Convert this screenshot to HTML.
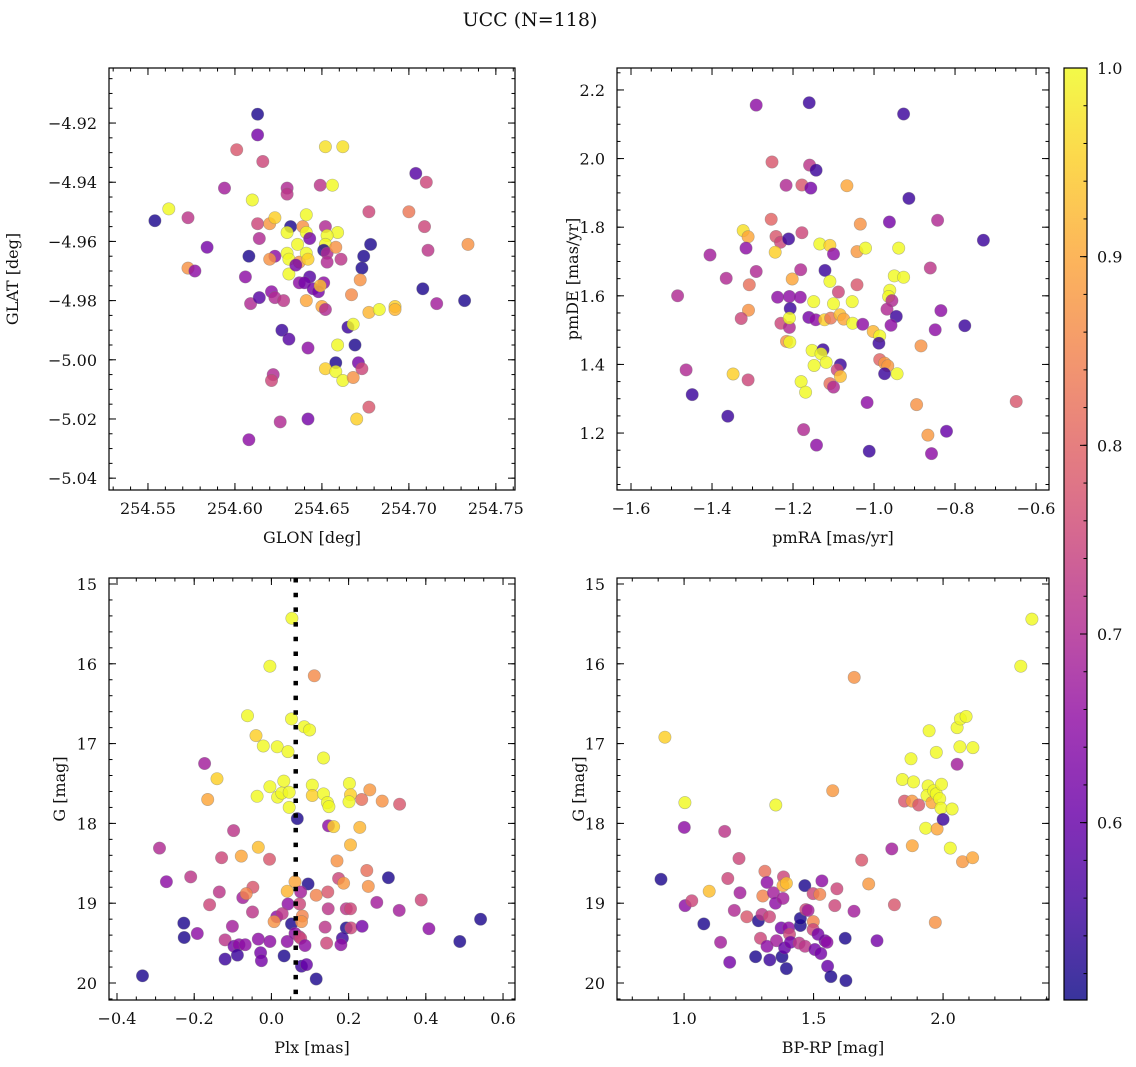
<!DOCTYPE html>
<html><head><meta charset="utf-8">
<style>
html,body{margin:0;padding:0;background:#fff;}
svg{display:block;font-family:"DejaVu Serif","Liberation Serif",serif;}
</style></head>
<body>
<svg id="fig" width="1136" height="1067" viewBox="0 0 1136 1067" xmlns="http://www.w3.org/2000/svg">
<rect x="0" y="0" width="1136" height="1067" fill="#fff"/>
<text x="530" y="26" font-size="19" text-anchor="middle" fill="#111">UCC (N=118)</text>
</svg>
<script>
// ---------- Panel 1: GLON / GLAT ----------
const glon = [254.613,254.613,254.601,254.616,254.652,254.662,254.594,254.630,254.630,254.649,254.656,254.704,254.710,254.610,254.562,254.554,254.573,254.613,254.620,254.623,254.632,254.639,254.641,254.652,254.659,254.677,254.700,254.709,254.734,254.614,254.630,254.636,254.641,254.643,254.653,254.652,254.651,254.653,254.658,254.584,254.678,254.674,254.608,254.623,254.620,254.630,254.631,254.637,254.641,254.642,254.653,254.661,254.711,254.573,254.577,254.606,254.631,254.635,254.673,254.643,254.637,254.640,254.651,254.645,254.648,254.649,254.672,254.708,254.609,254.614,254.621,254.623,254.628,254.641,254.650,254.652,254.667,254.677,254.683,254.692,254.692,254.716,254.732,254.665,254.668,254.627,254.631,254.642,254.659,254.669,254.658,254.652,254.658,254.662,254.668,254.671,254.673,254.622,254.621,254.626,254.642,254.670,254.677,254.608];
const glat = [-4.917,-4.924,-4.929,-4.933,-4.928,-4.928,-4.942,-4.942,-4.944,-4.941,-4.941,-4.937,-4.940,-4.946,-4.949,-4.953,-4.952,-4.954,-4.954,-4.952,-4.955,-4.955,-4.951,-4.955,-4.957,-4.950,-4.950,-4.955,-4.961,-4.959,-4.957,-4.961,-4.957,-4.959,-4.958,-4.961,-4.963,-4.964,-4.962,-4.962,-4.961,-4.965,-4.965,-4.965,-4.966,-4.964,-4.966,-4.967,-4.964,-4.966,-4.967,-4.966,-4.963,-4.969,-4.970,-4.972,-4.971,-4.968,-4.969,-4.972,-4.974,-4.974,-4.974,-4.976,-4.977,-4.975,-4.973,-4.976,-4.981,-4.979,-4.977,-4.979,-4.980,-4.980,-4.982,-4.983,-4.978,-4.984,-4.983,-4.982,-4.983,-4.981,-4.980,-4.989,-4.988,-4.990,-4.993,-4.996,-4.995,-4.995,-5.001,-5.003,-5.004,-5.007,-5.006,-5.001,-5.003,-5.005,-5.007,-5.021,-5.020,-5.020,-5.016,-5.027];
const prob1 = [.52,.62,.78,.75,.97,.97,.68,.70,.72,.72,1,.58,.75,1,1,.52,.72,.75,.88,.95,.52,.87,1,.70,1,.75,.83,.75,.87,.70,1,1,1,.62,1,1,.52,.70,.87,.62,.52,.52,.52,.65,.87,1,1,.87,1,.95,.70,.72,.72,.87,.65,.65,1,.62,.52,.58,.65,.62,.65,.62,.62,.93,.87,.52,.70,.58,.65,.70,.72,.90,.90,.70,.86,.92,1,.95,.92,.68,.52,.55,1,.55,.58,.65,1,.52,.52,.95,1,1,.87,.62,.75,.70,.75,.70,.62,.95,.78,.65];

// ---------- Panel 2: pmRA / pmDE ----------
const pmra = [-1.291,-1.160,-0.927,-1.252,-1.159,-1.143,-1.217,-1.178,-1.156,-1.067,-0.914,-1.254,-0.962,-0.843,-1.034,-1.323,-1.311,-1.242,-1.231,-1.211,-1.178,-0.730,-1.316,-1.244,-1.134,-1.109,-1.100,-1.042,-1.021,-0.939,-1.405,-1.291,-1.365,-1.308,-1.202,-1.181,-1.121,-1.109,-1.088,-1.042,-0.950,-0.927,-0.861,-1.485,-1.238,-1.209,-1.182,-1.149,-1.100,-1.054,-0.961,-0.964,-0.956,-1.207,-1.310,-1.328,-1.161,-1.144,-1.122,-1.107,-1.084,-1.075,-1.053,-1.028,-0.968,-0.945,-0.958,-0.835,-0.849,-0.776,-1.230,-1.209,-1.209,-1.216,-1.208,-1.002,-0.986,-0.988,-0.884,-1.153,-1.126,-1.131,-1.118,-1.148,-1.083,-1.091,-1.083,-1.109,-1.100,-1.180,-1.169,-0.986,-0.974,-0.966,-0.974,-0.943,-1.464,-1.348,-1.311,-1.449,-1.361,-1.017,-0.895,-0.649,-1.174,-1.142,-1.012,-0.867,-0.821,-0.858];
const pmde = [2.156,2.163,2.130,1.990,1.981,1.966,1.922,1.923,1.914,1.921,1.884,1.823,1.815,1.820,1.809,1.790,1.772,1.773,1.756,1.766,1.784,1.762,1.739,1.727,1.751,1.747,1.722,1.729,1.739,1.739,1.719,1.671,1.651,1.632,1.649,1.676,1.674,1.642,1.611,1.632,1.658,1.654,1.681,1.600,1.596,1.598,1.596,1.583,1.577,1.583,1.616,1.598,1.586,1.563,1.558,1.534,1.537,1.530,1.530,1.535,1.545,1.532,1.520,1.517,1.561,1.540,1.514,1.557,1.501,1.513,1.520,1.508,1.535,1.467,1.465,1.496,1.483,1.462,1.454,1.441,1.443,1.431,1.406,1.397,1.399,1.384,1.365,1.344,1.334,1.350,1.319,1.414,1.404,1.396,1.373,1.373,1.384,1.372,1.355,1.312,1.249,1.289,1.283,1.292,1.210,1.165,1.147,1.194,1.205,1.140];
const prob2 = [.65,.55,.55,.78,.72,.55,.70,.78,.62,.90,.55,.80,.62,.70,.87,.97,.90,.78,.75,.55,.75,.55,.65,.95,1,.95,.65,.88,1,1,.68,.70,.70,.82,.90,.70,.55,1,.75,.78,1,1,.72,.70,.65,.65,.65,1,1,1,1,1,.70,.55,.87,.75,.62,.65,.95,.83,.93,.90,1,.65,.70,.55,.65,.65,.65,.55,.75,.70,1,.87,1,.92,1,.55,.87,1,.55,1,1,1,.55,.75,.93,.82,.70,1,1,.80,.88,.88,.55,1,.70,.95,.75,.55,.55,.65,.87,.78,.70,.65,.55,.88,.60,.65];

// ---------- Panel 3: Plx / G ----------
const plx = [0.053,-0.004,0.111,-0.062,0.052,0.085,0.099,-0.040,-0.021,0.015,0.043,0.135,-0.173,-0.141,-0.004,0.032,-0.165,-0.037,0.016,0.027,0.046,0.046,0.106,0.106,0.135,0.145,0.149,0.202,0.205,0.201,0.234,0.255,0.287,0.332,0.067,0.148,0.161,0.229,-0.098,-0.290,-0.034,0.205,-0.129,-0.078,-0.005,0.170,-0.272,-0.209,-0.135,-0.160,-0.074,-0.048,-0.065,0.061,0.041,0.095,0.076,0.116,0.146,0.174,0.187,0.247,0.251,0.303,0.273,0.388,0.331,0.043,0.073,-0.049,0.014,0.028,0.007,0.052,0.080,0.078,0.147,0.194,0.205,-0.227,-0.226,-0.192,-0.101,-0.120,-0.097,-0.084,-0.068,-0.088,-0.120,-0.034,-0.028,-0.026,-0.004,0.033,0.041,0.061,0.072,0.076,0.087,0.078,0.091,0.116,0.139,0.143,0.194,0.206,0.184,0.180,0.235,0.408,0.542,0.488,-0.334];
const gmag3 = [15.43,16.03,16.15,16.65,16.69,16.79,16.83,16.90,17.03,17.04,17.10,17.18,17.25,17.44,17.54,17.47,17.70,17.66,17.67,17.62,17.61,17.80,17.52,17.65,17.63,17.74,17.79,17.50,17.64,17.73,17.70,17.58,17.72,17.76,17.94,18.03,18.04,18.05,18.09,18.31,18.30,18.27,18.43,18.41,18.45,18.47,18.73,18.67,18.86,19.02,18.93,18.80,18.88,18.73,18.85,18.76,18.86,18.90,18.86,18.69,18.75,18.59,18.79,18.68,18.99,18.96,19.09,19.01,19.01,19.11,19.17,19.13,19.23,19.26,19.16,19.23,19.07,19.07,19.07,19.25,19.43,19.38,19.29,19.46,19.54,19.52,19.52,19.65,19.70,19.45,19.62,19.72,19.48,19.66,19.48,19.38,19.42,19.44,19.53,19.79,19.77,19.95,19.30,19.50,19.31,19.31,19.44,19.52,19.29,19.32,19.20,19.48,19.91];
const prob3 = [1,1,.86,1,1,1,1,.95,1,1,1,1,.68,.95,1,1,.90,1,1,1,1,1,1,.95,1,1,1,1,.95,1,.82,.88,.87,.78,.52,.65,.95,.92,.72,.70,.93,.92,.75,.90,.78,.87,.65,.72,.72,.75,.68,.78,.85,.90,.92,.52,.68,.85,.78,.75,.88,.82,.87,.52,.68,.75,.68,.65,.75,.72,.65,.72,.87,.52,.85,.87,.72,.72,.75,.52,.52,.65,.68,.72,.62,.65,.65,.55,.55,.65,.62,.62,.65,.52,.65,.65,.72,.75,.65,.55,.60,.52,.72,.75,.52,.75,.55,.65,.62,.65,.52,.52,.52];
const plxRef = [0.063];

// ---------- Panel 4: BP-RP / G ----------
const bprp = [0.926,1.003,1.001,0.911,1.004,1.030,1.076,1.097,1.141,1.176,1.157,1.169,1.194,1.216,1.212,1.242,1.276,1.287,1.301,1.331,1.312,1.320,1.304,1.330,1.295,1.320,1.345,1.353,1.354,1.357,1.378,1.384,1.382,1.395,1.382,1.375,1.388,1.395,1.404,1.407,1.411,1.444,1.449,1.449,1.466,1.470,1.479,1.467,1.498,1.499,1.498,1.524,1.532,1.517,1.505,1.528,1.544,1.552,1.554,1.567,1.574,1.582,1.590,1.622,1.625,1.657,1.656,1.686,1.713,1.745,1.802,1.812,1.843,1.851,1.880,1.876,1.886,1.881,1.906,1.933,1.946,1.942,1.938,1.957,1.964,1.974,1.974,1.977,1.970,1.987,1.994,1.992,2.000,2.028,2.035,2.054,2.054,2.067,2.089,2.065,2.115,2.075,2.114,2.300,2.343];
const gmag4 = [16.92,17.74,18.05,18.70,19.03,18.97,19.26,18.85,19.49,19.74,18.10,18.69,19.09,18.87,18.44,19.17,19.67,19.22,19.14,19.71,18.60,18.74,18.91,19.17,19.44,19.54,18.87,19.00,17.77,19.47,19.67,18.67,18.78,18.75,18.94,19.31,19.56,19.82,19.31,19.39,19.49,19.50,19.28,19.19,18.78,19.08,19.09,19.54,18.88,19.23,19.33,18.89,18.72,19.39,19.58,19.63,19.47,19.49,19.79,19.92,17.59,19.03,18.82,19.44,19.97,16.17,19.10,18.46,18.76,19.47,18.32,19.02,17.45,17.72,17.72,17.19,17.48,18.28,17.77,18.06,16.84,17.53,17.65,17.74,17.59,17.11,17.63,18.07,19.24,17.69,17.51,17.81,17.95,18.31,17.82,17.26,16.80,16.69,16.66,17.04,17.05,18.48,18.43,16.03,15.44];
const prob4 = [.95,1,.65,.52,.65,.75,.52,.93,.68,.62,.72,.75,.70,.68,.75,.78,.52,.52,.72,.55,.82,.65,.85,.75,.75,.65,.68,.65,1,.68,.52,.75,.90,.93,.68,.62,.60,.52,.65,.75,.62,.72,.52,.52,.52,.75,.68,.72,.75,.85,.75,.85,.65,.62,.62,.62,.62,.65,.60,.52,.88,.75,.75,.52,.52,.87,.68,.78,.88,.62,.68,.78,1,.78,.88,1,1,.90,.78,1,1,1,1,.90,1,1,1,.90,.87,1,1,1,.55,1,1,.68,1,1,1,1,1,.88,.90,1,1];

// ---------- Colorbar ----------
const cbTicks = [0.6,0.7,0.8,0.9,1.0];
const cbTickLabels = ["0.6","0.7","0.8","0.9","1.0"];

const NS = "http://www.w3.org/2000/svg";
const svg = document.getElementById("fig");
const VMIN = 0.506, VMAX = 1.0;
const plasma = [[0,13,8,135],[0.1,65,4,157],[0.2,106,0,168],[0.3,143,13,164],[0.4,177,42,144],[0.5,204,71,120],[0.6,225,100,98],[0.7,242,132,75],[0.8,252,166,54],[0.9,252,206,37],[1,240,249,33]];
function cmap(v){
  let t = Math.max(0, Math.min(1, (v - VMIN) / (VMAX - VMIN)));
  for (let i = 0; i < plasma.length - 1; i++) {
    const a = plasma[i], b = plasma[i+1];
    if (t <= b[0]) {
      const f = (t - a[0]) / (b[0] - a[0]);
      return "rgb(" + [1,2,3].map(k => Math.round(a[k] + (b[k]-a[k])*f)).join(",") + ")";
    }
  }
  return "rgb(240,249,33)";
}
function mk(tag, attrs, parent){
  const e = document.createElementNS(NS, tag);
  for (const k in attrs) e.setAttribute(k, attrs[k]);
  (parent || svg).appendChild(e);
  return e;
}
function fmtMinus(s){ return s.replace("-", "\u2212"); }

function panel(cfg){
  const g = mk("g", {});
  
  
  const {x0, y0, w, h} = cfg;
  const sx = v => x0 + (v - cfg.xd[0]) / (cfg.xd[1] - cfg.xd[0]) * w;
  const sy = v => y0 + (v - cfg.yd[0]) / (cfg.yd[1] - cfg.yd[0]) * h;
  const pg = mk("g", {}, g);
  
  
  for (let i = 0; i < cfg.xs.length; i++) {
    const c = mk("circle", {cx: sx(cfg.xs[i]).toFixed(1), cy: sy(cfg.ys[i]).toFixed(1), r: 6.2, fill: cmap(cfg.ps[i]), "fill-opacity": 0.82, stroke: "#777", "stroke-opacity": 0.5, "stroke-width": 0.6}, pg);
    
    
  }
  if (cfg.vline) {
    for (const v of cfg.vline) {
      const l = mk("line", {x1: sx(v), x2: sx(v), y1: y0, y2: y0 + h, stroke: "#000", "stroke-width": 4.5, "stroke-dasharray": "4.5 10.2"}, g);
      
      
    }
  }
  const fr = mk("rect", {x: x0, y: y0, width: w, height: h, fill: "none", stroke: "#000", "stroke-width": 1.2}, g);
  
  
  const tk = mk("g", {stroke: "#000", "stroke-width": 1}, g);
  
  
  const lo = (a,b)=>Math.min(a,b), hi=(a,b)=>Math.max(a,b);
  const xlo = lo(cfg.xd[0], cfg.xd[1]), xhi = hi(cfg.xd[0], cfg.xd[1]);
  const ylo = lo(cfg.yd[0], cfg.yd[1]), yhi = hi(cfg.yd[0], cfg.yd[1]);
  for (let k = Math.ceil(xlo / cfg.xminor - 1e-6); k * cfg.xminor <= xhi + 1e-9; k++) {
    const px = sx(k * cfg.xminor);
    mk("line", {x1: px, x2: px, y1: y0 + h, y2: y0 + h - 3.5}, tk);
    mk("line", {x1: px, x2: px, y1: y0, y2: y0 + 3.5}, tk);
  }
  for (let k = Math.ceil(ylo / cfg.yminor - 1e-6); k * cfg.yminor <= yhi + 1e-9; k++) {
    const py = sy(k * cfg.yminor);
    mk("line", {x1: x0, x2: x0 + 3.5, y1: py, y2: py}, tk);
    mk("line", {x1: x0 + w, x2: x0 + w - 3.5, y1: py, y2: py}, tk);
  }
  cfg.xticks.forEach((v, i) => {
    const px = sx(v);
    mk("line", {x1: px, x2: px, y1: y0 + h, y2: y0 + h - 7}, tk);
    mk("line", {x1: px, x2: px, y1: y0, y2: y0 + 7}, tk);
    const t = mk("text", {x: px, y: y0 + h + 24, "font-size": 16, "text-anchor": "middle", fill: "#111"}, g);
    t.textContent = fmtMinus(cfg.xlabels[i]);
    
    
  });
  cfg.yticks.forEach((v, i) => {
    const py = sy(v);
    mk("line", {x1: x0, x2: x0 + 7, y1: py, y2: py}, tk);
    mk("line", {x1: x0 + w, x2: x0 + w - 7, y1: py, y2: py}, tk);
    const t = mk("text", {x: x0 - 12, y: py + 6, "font-size": 16, "text-anchor": "end", fill: "#111"}, g);
    t.textContent = fmtMinus(cfg.ylabels[i]);
    
    
  });
  const xl = mk("text", {x: x0 + w/2, y: y0 + h + 53, "font-size": 16, "text-anchor": "middle", fill: "#111"}, g);
  xl.textContent = cfg.xtitle;
  
  
  const yl = mk("text", {x: 0, y: 0, "font-size": 16, "text-anchor": "middle", fill: "#111", transform: "translate(" + cfg.ytx + "," + (y0 + h/2) + ") rotate(-90)"}, g);
  yl.textContent = cfg.ytitle;
  
  
}

panel({name: "glon-glat-panel", x0: 109, y0: 68, w: 406, h: 422, xd: [254.5276, 254.7610], yd: [-4.9014, -5.0440],
  xs: glon, ys: glat, ps: prob1,
  xticks: [254.55,254.60,254.65,254.70,254.75], xlabels: ["254.55","254.60","254.65","254.70","254.75"],
  yticks: [-4.92,-4.94,-4.96,-4.98,-5.00,-5.02,-5.04], ylabels: ["-4.92","-4.94","-4.96","-4.98","-5.00","-5.02","-5.04"],
  xminor: 0.01, yminor: 0.005, xtitle: "GLON [deg]", ytitle: "GLAT [deg]", ytx: 18});
panel({name: "pm-panel", x0: 617, y0: 68, w: 432, h: 422, xd: [-1.6346, -0.568], yd: [2.264, 1.034],
  xs: pmra, ys: pmde, ps: prob2,
  xticks: [-1.6,-1.4,-1.2,-1.0,-0.8,-0.6], xlabels: ["-1.6","-1.4","-1.2","-1.0","-0.8","-0.6"],
  yticks: [2.2,2.0,1.8,1.6,1.4,1.2], ylabels: ["2.2","2.0","1.8","1.6","1.4","1.2"],
  xminor: 0.05, yminor: 0.05, xtitle: "pmRA [mas/yr]", ytitle: "pmDE [mas/yr]", ytx: 578});
panel({name: "plx-g-panel", x0: 109, y0: 578, w: 406, h: 422, xd: [-0.4207, 0.631], yd: [14.925, 20.213],
  xs: plx, ys: gmag3, ps: prob3, vline: plxRef,
  xticks: [-0.4,-0.2,0.0,0.2,0.4,0.6], xlabels: ["-0.4","-0.2","0.0","0.2","0.4","0.6"],
  yticks: [15,16,17,18,19,20], ylabels: ["15","16","17","18","19","20"],
  xminor: 0.05, yminor: 0.2, xtitle: "Plx [mas]", ytitle: "G [mag]", ytx: 65});
panel({name: "cmd-panel", x0: 617, y0: 578, w: 432, h: 422, xd: [0.741, 2.409], yd: [14.925, 20.213],
  xs: bprp, ys: gmag4, ps: prob4,
  xticks: [1.0,1.5,2.0], xlabels: ["1.0","1.5","2.0"],
  yticks: [15,16,17,18,19,20], ylabels: ["15","16","17","18","19","20"],
  xminor: 0.1, yminor: 0.2, xtitle: "BP-RP [mag]", ytitle: "G [mag]", ytx: 584});

(function(){
  const cx = 1064, cy = 68, cw = 23, ch = 932;
  const defs = mk("defs", {});
  const grad = mk("linearGradient", {id: "cbgrad", x1: 0, y1: 1, x2: 0, y2: 0}, defs);
  for (let i = 0; i <= 20; i++) {
    const v = VMIN + (VMAX - VMIN) * i / 20;
    mk("stop", {offset: (i/20).toFixed(3), "stop-color": cmap(v), "stop-opacity": 0.82}, grad);
  }
  const g = mk("g", {});
  
  
  mk("rect", {x: cx, y: cy, width: cw, height: ch, fill: "url(#cbgrad)", stroke: "#000", "stroke-width": 1.2}, g);
  const sy = v => cy + (VMAX - v) / (VMAX - VMIN) * ch;
  for (let k = Math.ceil(VMIN / 0.02 - 1e-6); k * 0.02 <= VMAX + 1e-9; k++) {
    const py = sy(k * 0.02);
    mk("line", {x1: cx + cw, x2: cx + cw - 3.5, y1: py, y2: py, stroke: "#000", "stroke-width": 1}, g);
  }
  cbTicks.forEach((v, i) => {
    const py = sy(v);
    mk("line", {x1: cx + cw, x2: cx + cw - 7, y1: py, y2: py, stroke: "#000", "stroke-width": 1}, g);
    const t = mk("text", {x: cx + cw + 10, y: py + 6, "font-size": 16, fill: "#111"}, g);
    t.textContent = cbTickLabels[i];
    
    
  });
})();
</script>
</body></html>
